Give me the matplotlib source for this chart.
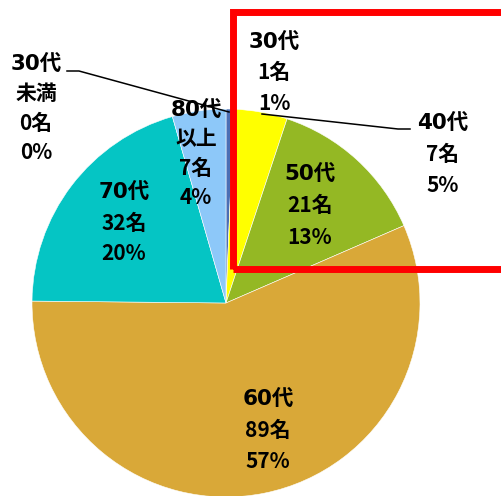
import matplotlib
matplotlib.use("Agg")
import matplotlib.pyplot as plt
from matplotlib.patches import Rectangle

plt.rcParams['font.family'] = ['Noto Sans CJK JP', 'DejaVu Sans']

# ---- data ----
categories = ["30代未満", "30代", "40代", "50代", "60代", "70代", "80代以上"]
label_names = ["30代\n未満", "30代", "40代", "50代", "60代", "70代", "80代\n以上"]
counts = [0, 1, 7, 21, 89, 32, 7]
percents = ["0%", "1%", "5%", "13%", "57%", "20%", "4%"]
colors = ["#4F6FB0", "#4A6FB5", "#FFFF00", "#94B824", "#D9A838", "#05C5C4", "#8DC8F9"]

# ---- layout (pixel coordinates, origin top-left) ----
W, H = 502, 496
cx, cy, R = 226, 303, 194
# label anchor x, first-line y, line spacing
label_pos = {
    "30代未満": (36, 64, 29.5),
    "30代": (274, 42, 30.5),
    "40代": (443, 123, 31),
    "50代": (310, 174, 31.5),
    "60代": (268, 399, 31),
    "70代": (124, 192, 31),
    "80代以上": (196, 110, 29),
}

fig = plt.figure(figsize=(W / 100, H / 100), dpi=100)
ax = fig.add_axes([0, 0, 1, 1])

ax.pie(counts, colors=colors, startangle=90, counterclock=False,
       center=(cx, H - cy), radius=R,
       wedgeprops=dict(edgecolor="white", linewidth=0.4))
ax.set_xlim(0, W)
ax.set_ylim(0, H)
ax.set_aspect('auto')
ax.axis('off')

for cat, name, n, p in zip(categories, label_names, counts, percents):
    x, y0, sp = label_pos[cat]
    lines = name.split("\n") + [f"{n}名", p]
    for i, t in enumerate(lines):
        if i == 0:
            fam = ['DejaVu Sans', 'Noto Sans CJK JP']
            fs = 15.5
        else:
            fam = ['Noto Sans CJK JP', 'DejaVu Sans']
            fs = 15
        ax.text(x, H - (y0 + i * sp), t, ha='center', va='center',
                fontsize=fs, fontweight='bold', color='black', family=fam)

# leader lines
ax.plot([67, 79, 229], [H - 71, H - 71, H - 112], color='black', lw=1.1)
ax.plot([262, 398, 410], [H - 114, H - 129, H - 129], color='black', lw=1.1)

# red highlight rectangle
ax.add_patch(Rectangle((233, H - 269), 270, 269 - 11.5, fill=False,
                       edgecolor='#FF0000', linewidth=5, clip_on=False))

fig.savefig("out.png", dpi=100)
